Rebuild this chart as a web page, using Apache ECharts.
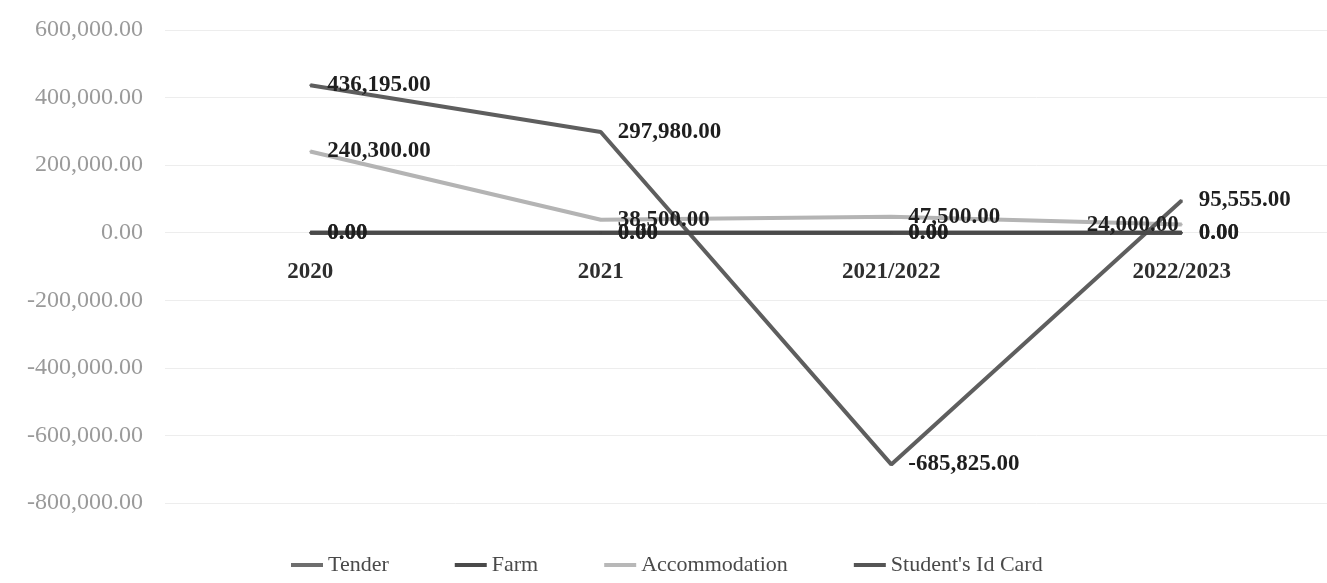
<!DOCTYPE html>
<html>
<head>
<meta charset="utf-8">
<script src="https://cdn.jsdelivr.net/npm/echarts@6/dist/echarts.min.js"></script>
<style>
  html, body { margin: 0; padding: 0; background: #fff; }
  #chart { width: 1327px; height: 583px; }
</style>
</head>
<body>
<div id="chart"></div>
<script>
// Periods on the category axis
const categories = ['2020', '2021', '2021/2022', '2022/2023'];

// Yearly amounts per income line
const tender = [436195, 297980, -685825, 95555];
const farm = [0, 0, 0, 0];
const accommodation = [240300, 38500, 47500, 24000];
const studentIdCard = [0, 0, 0, 0];

// Value axis range and step
const yMin = -800000;
const yMax = 600000;
const yStep = 200000;

const fmt = v => Number(v).toLocaleString('en-US', { minimumFractionDigits: 2, maximumFractionDigits: 2 });

const serif = '"Liberation Serif", "Times New Roman", serif';

// plot area geometry
const gridTop = 30;
const gridBottom = 80;
const chartH = 583;
const plotH = chartH - gridTop - gridBottom;
// lift the category axis from the bottom edge up to the zero line
const zeroLift = -plotH * (0 - yMin) / (yMax - yMin);

const labelStyle = {
  show: true,
  position: 'right',
  distance: 16,
  offset: [2, 4],
  color: '#1e1e1e',
  fontFamily: serif,
  fontWeight: 'bold',
  fontSize: 23,
  formatter: p => fmt(p.value)
};

function makeSeries(name, values, color, width, leftIdx) {
  return {
    name: name,
    type: 'line',
    symbol: 'circle',
    symbolSize: 2,
    showSymbol: true,
    data: values.map((v, i) => (leftIdx === i ? { value: v, label: { position: 'left', distance: 2 } } : v)),
    lineStyle: { color: color, width: width },
    itemStyle: { color: color },
    label: labelStyle,
    labelLayout: { hideOverlap: false },
    emphasis: { disabled: true }
  };
}

const chart = echarts.init(document.getElementById('chart'), null, { renderer: 'canvas' });

chart.setOption({
  animation: false,
  backgroundColor: '#ffffff',
  grid: { left: 165, top: gridTop, width: 1180, bottom: gridBottom, containLabel: false },
  legend: {
    left: 286,
    bottom: 2,
    icon: 'rect',
    itemWidth: 32,
    itemHeight: 4,
    itemGap: 66,
    textStyle: { color: '#4a4a4a', fontFamily: serif, fontSize: 22 },
    data: [
      { name: 'Tender', itemStyle: { color: '#6e6e6e' } },
      { name: 'Farm', itemStyle: { color: '#4a4a4a' } },
      { name: 'Accommodation', itemStyle: { color: '#b8b8b8' } },
      { name: "Student's Id Card", itemStyle: { color: '#555555' } }
    ]
  },
  xAxis: {
    type: 'category',
    data: categories,
    boundaryGap: true,
    offset: zeroLift,
    axisLine: { show: false, onZero: false },
    axisTick: { show: false },
    axisLabel: {
      color: '#2e2e2e',
      fontFamily: serif,
      fontWeight: 'bold',
      fontSize: 23,
      margin: 28
    },
    splitLine: { show: false }
  },
  yAxis: {
    type: 'value',
    min: yMin,
    max: yMax,
    interval: yStep,
    axisLine: { show: false },
    axisTick: { show: false },
    axisLabel: {
      color: '#9a9a9a',
      fontFamily: serif,
      fontSize: 24,
      margin: 22,
      formatter: v => fmt(v)
    },
    splitLine: { show: true, lineStyle: { color: '#ededed', width: 1 } }
  },
  series: [
    makeSeries('Accommodation', accommodation, '#b4b4b4', 4, 3),
    makeSeries('Tender', tender, '#5e5e5e', 4),
    makeSeries('Farm', farm, '#3e3e3e', 4),
    makeSeries("Student's Id Card", studentIdCard, '#4a4a4a', 4)
  ]
});
</script>
</body>
</html>
